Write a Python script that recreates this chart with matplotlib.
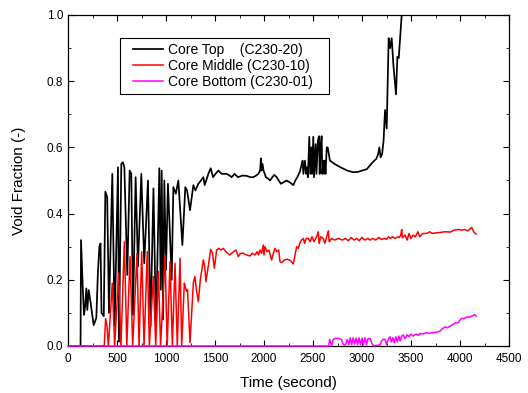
import matplotlib
matplotlib.use('Agg')
import matplotlib.pyplot as plt
from matplotlib.ticker import MultipleLocator, FormatStrFormatter
from matplotlib.legend_handler import HandlerLine2D

plt.rcParams['font.family'] = ['Liberation Sans', 'DejaVu Sans']

# Core Top (C230-20)
t_top = [0, 128, 133, 150, 163, 175, 187, 197, 211, 231, 262, 289, 305, 320, 332, 342, 365,
         381, 400, 418, 452, 476, 510, 520, 544, 561, 575, 605, 629, 646, 663, 690, 714,
         748, 778, 816, 842, 872, 898, 932, 946, 956, 970, 983, 1000, 1020, 1058, 1075,
         1100, 1126, 1167, 1197, 1215, 1245, 1279, 1300, 1330, 1357, 1381, 1395, 1432,
         1456, 1480, 1505, 1534, 1570, 1619, 1650, 1670, 1700, 1735, 1780, 1823, 1860,
         1892, 1920, 1942, 1960, 1969, 1975, 1985, 1995, 2020, 2045, 2062, 2085, 2105,
         2130, 2150, 2173, 2200, 2230, 2260, 2299, 2320, 2340, 2367, 2385, 2394, 2402,
         2418, 2430, 2440, 2448, 2462, 2472, 2483, 2490, 2503, 2510, 2527, 2535, 2550,
         2561, 2568, 2578, 2588, 2595, 2605, 2612, 2620, 2628, 2640, 2650, 2673, 2720,
         2780, 2850, 2911, 2960, 3000, 3048, 3080, 3115, 3145, 3165, 3177, 3190, 3205,
         3220, 3235, 3252, 3272, 3287, 3303, 3320, 3347, 3361, 3375, 3405, 3450, 4130]
v_top = [0.0, 0.0, 0.32, 0.18, 0.094, 0.12, 0.174, 0.109, 0.169, 0.13, 0.063, 0.085, 0.22,
         0.30, 0.31, 0.10, 0.09, 0.466, 0.45, 0.10, 0.52, 0.06, 0.54, 0.013, 0.55, 0.555,
         0.54, 0.215, 0.53, 0.52, 0.094, 0.51, 0.24, 0.52, 0.25, 0.50, 0.06, 0.476, 0.054,
         0.537, 0.17, 0.53, 0.08, 0.50, 0.23, 0.49, 0.20, 0.48, 0.46, 0.50, 0.305, 0.48,
         0.47, 0.41, 0.486, 0.47, 0.49, 0.50, 0.51, 0.486, 0.52, 0.537, 0.51, 0.52, 0.53,
         0.52, 0.52, 0.515, 0.51, 0.52, 0.51, 0.515, 0.514, 0.51, 0.51, 0.515, 0.52, 0.53,
         0.567, 0.53, 0.55, 0.53, 0.51, 0.505, 0.50, 0.51, 0.517, 0.51, 0.50, 0.49, 0.495,
         0.50, 0.495, 0.486, 0.50, 0.51, 0.527, 0.55, 0.56, 0.52, 0.56, 0.52, 0.54, 0.51,
         0.632, 0.52, 0.60, 0.52, 0.632, 0.51, 0.61, 0.52, 0.62, 0.634, 0.52, 0.60, 0.634,
         0.52, 0.56, 0.52, 0.56, 0.52, 0.60, 0.60, 0.56, 0.55, 0.54, 0.53, 0.525, 0.526,
         0.53, 0.534, 0.545, 0.557, 0.565, 0.58, 0.60, 0.57, 0.58, 0.62, 0.713, 0.657,
         0.93, 0.90, 0.93, 0.85, 0.76, 0.874, 0.87, 1.0, 1.06, 1.06]

# Core Middle (C230-10)
t_mid = [0, 370, 384, 398, 412, 452, 476, 517, 540, 575, 600, 633, 660, 704, 725, 752, 776,
         809, 830, 871, 895, 922, 945, 990, 1012, 1041, 1065, 1092, 1115, 1143, 1160, 1187,
         1200, 1210, 1220, 1245, 1279, 1295, 1310, 1330, 1350, 1381, 1395, 1408, 1430,
         1456, 1475, 1493, 1517, 1540, 1560, 1585, 1610, 1630, 1650, 1670, 1690, 1714,
         1738, 1760, 1790, 1820, 1857, 1880, 1910, 1930, 1945, 1959, 1975, 1993, 2000,
         2010, 2030, 2050, 2078, 2095, 2112, 2130, 2150, 2163, 2180, 2210, 2240, 2270,
         2299, 2320, 2333, 2350, 2365, 2384, 2401, 2415, 2430, 2452, 2470, 2490, 2510,
         2537, 2554, 2562, 2580, 2605, 2620, 2640, 2656, 2665, 2690, 2720, 2760, 2800,
         2830, 2860, 2890, 2920, 2946, 2970, 3000, 3030, 3060, 3082, 3110, 3140, 3170,
         3200, 3230, 3252, 3270, 3290, 3310, 3340, 3365, 3380, 3395, 3405, 3412, 3440,
         3460, 3480, 3500, 3520, 3545, 3570, 3590, 3620, 3660, 3690, 3720, 3760, 3800,
         3840, 3864, 3900, 3940, 3983, 4020, 4047, 4080, 4119, 4140, 4163]
v_mid = [0.0, 0.0, 0.083, 0.06, 0.0, 0.19, 0.0, 0.22, 0.0, 0.315, 0.0, 0.27, 0.0, 0.28, 0.0,
         0.285, 0.0, 0.285, 0.0, 0.21, 0.0, 0.225, 0.0, 0.275, 0.0, 0.255, 0.0, 0.25, 0.0,
         0.265, 0.0, 0.19, 0.175, 0.165, 0.17, 0.01, 0.19, 0.21, 0.17, 0.134, 0.20, 0.26,
         0.24, 0.194, 0.24, 0.292, 0.28, 0.235, 0.29, 0.295, 0.29, 0.295, 0.285, 0.28,
         0.275, 0.28, 0.285, 0.29, 0.27, 0.28, 0.28, 0.275, 0.272, 0.28, 0.275, 0.285,
         0.275, 0.29, 0.28, 0.305, 0.275, 0.30, 0.285, 0.29, 0.26, 0.28, 0.295, 0.285,
         0.29, 0.255, 0.252, 0.26, 0.262, 0.258, 0.248, 0.28, 0.30, 0.295, 0.31, 0.32,
         0.325, 0.31, 0.325, 0.325, 0.315, 0.33, 0.315, 0.33, 0.345, 0.31, 0.33, 0.325,
         0.31, 0.33, 0.348, 0.315, 0.325, 0.32, 0.325, 0.32, 0.325, 0.318, 0.328, 0.32,
         0.325, 0.318, 0.328, 0.32, 0.325, 0.32, 0.325, 0.32, 0.328, 0.322, 0.325, 0.322,
         0.33, 0.325, 0.33, 0.325, 0.33, 0.328, 0.335, 0.352, 0.327, 0.335, 0.32, 0.34,
         0.325, 0.335, 0.33, 0.345, 0.33, 0.34, 0.34, 0.345, 0.34, 0.342, 0.343, 0.345,
         0.345, 0.344, 0.35, 0.352, 0.35, 0.352, 0.348, 0.358, 0.345, 0.338]

# Core Bottom (C230-01)
t_bot = [0, 2640, 2660, 2670, 2690, 2707, 2730, 2760, 2790, 2810, 2830, 2850, 2865, 2880,
         2895, 2910, 2925, 2940, 2955, 2970, 2985, 3000, 3015, 3030, 3045, 3060, 3082,
         3100, 3120, 3150, 3184, 3200, 3215, 3235, 3250, 3270, 3286, 3300, 3315, 3330,
         3345, 3360, 3375, 3390, 3405, 3422, 3440, 3460, 3480, 3500, 3520, 3540, 3558,
         3575, 3592, 3620, 3650, 3680, 3710, 3740, 3770, 3796, 3820, 3850, 3870, 3898,
         3920, 3950, 3980, 4000, 4017, 4040, 4070, 4090, 4119, 4140, 4153, 4163]
v_bot = [0.0, 0.0, 0.0, 0.02, 0.0, 0.02, 0.023, 0.023, 0.02, 0.004, 0.003, 0.02, 0.004,
         0.025, 0.004, 0.025, 0.006, 0.024, 0.004, 0.025, 0.004, 0.024, 0.004, 0.025,
         0.003, 0.022, 0.023, 0.008, 0.0, 0.002, 0.003, 0.015, 0.02, 0.02, 0.005, 0.022,
         0.028, 0.012, 0.025, 0.01, 0.028, 0.012, 0.03, 0.015, 0.03, 0.033, 0.022, 0.034,
         0.028, 0.036, 0.03, 0.034, 0.036, 0.032, 0.038, 0.036, 0.04, 0.038, 0.04, 0.041,
         0.042, 0.045, 0.052, 0.058, 0.055, 0.06, 0.063, 0.07, 0.07, 0.078, 0.084, 0.082,
         0.088, 0.087, 0.09, 0.093, 0.095, 0.09]

labels = ['Core Top    (C230-20)', 'Core Middle (C230-10)', 'Core Bottom (C230-01)']

fig = plt.figure(figsize=(5.28, 3.93), dpi=100)
ax = fig.add_axes([68/528, 1-346/393, 441/528, 331/393])

l1, = ax.plot(t_top, v_top, color='black', lw=1.25, label=labels[0])
l2, = ax.plot(t_mid, v_mid, color='red', lw=1.1, label=labels[1])
l3, = ax.plot(t_bot, v_bot, color='magenta', lw=1.1, label=labels[2], zorder=3, clip_on=False)

ax.set_xlim(0, 4500)
ax.set_ylim(0, 1.0)
ax.xaxis.set_major_locator(MultipleLocator(500))
ax.xaxis.set_minor_locator(MultipleLocator(250))
ax.yaxis.set_major_locator(MultipleLocator(0.2))
ax.yaxis.set_minor_locator(MultipleLocator(0.1))
ax.yaxis.set_major_formatter(FormatStrFormatter('%.1f'))
ax.tick_params(which='both', direction='in', top=True, right=True, labelsize=8.5)
ax.tick_params(axis='x', pad=5)
ax.tick_params(which='major', length=4, width=0.8)
ax.tick_params(which='minor', length=2.5, width=0.6)
for s in ax.spines.values():
    s.set_linewidth(0.9)

ax.set_xlabel('Time (second)', fontsize=11, labelpad=8)
ax.set_ylabel('Void Fraction (-)', fontsize=11, labelpad=15)

hmap = {l1: HandlerLine2D(xpad=0.58), l2: HandlerLine2D(xpad=0.58), l3: HandlerLine2D(xpad=0.58)}
leg = ax.legend(handles=[l1, l2, l3], handler_map=hmap, loc='upper left',
                bbox_to_anchor=(52/441, 0, 209/441, 308/331), mode='expand', fontsize=10,
                frameon=True, fancybox=False, edgecolor='black', framealpha=1,
                borderaxespad=0, handlelength=2.74, handletextpad=0.36,
                labelspacing=0.15, borderpad=0.35)
leg.get_frame().set_linewidth(0.8)

fig.savefig('out.png', dpi=100)
